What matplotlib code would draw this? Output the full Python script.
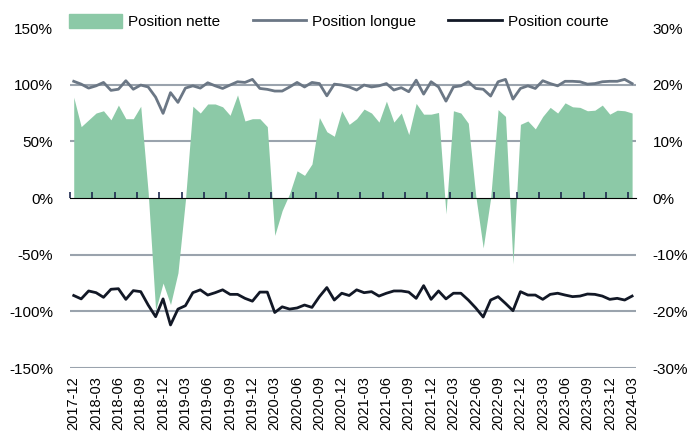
"""
Positions nette, longue et courte (mensuel 2017-12 a 2024-03).
"""
import matplotlib
matplotlib.use("Agg")
import matplotlib.pyplot as plt
import pandas as pd

plt.rcParams["font.family"] = ["Liberation Sans", "DejaVu Sans"]
plt.rcParams["font.size"] = 11

months = [p.strftime("%Y-%m") for p in pd.period_range("2017-12", "2024-03", freq="M")]

# net position, right axis (%)
net = [17.8, 12.6, 13.8, 15.0, 15.4, 13.8, 16.4, 14.0, 14.0, 16.2,
       1.0, -19.8, -15.0, -18.8, -13.2, -0.4, 16.2, 15.0, 16.6, 16.6,
       16.1, 14.6, 18.2, 13.6, 14.0, 14.0, 12.6, -6.6, -2.2, 0.8,
       4.8, 4.0, 6.0, 14.2, 11.7, 10.9, 15.4, 13.0, 14.0, 15.7,
       15.0, 13.4, 17.1, 13.4, 15.0, 11.2, 16.7, 14.8, 14.8, 15.1,
       -2.8, 15.4, 15.0, 13.2, 0.4, -8.8, 0.0, 15.6, 14.4, -11.6,
       13.0, 13.6, 12.2, 14.4, 16.0, 15.0, 16.8, 16.1, 16.0, 15.4,
       15.5, 16.4, 14.8, 15.5, 15.4, 15.0]

# long / short positions, left axis (%)
long_pos = [103, 100.5, 97, 99, 102, 95, 96, 103.5, 96, 99.7,
            98, 89, 74.7, 93, 84.4, 97, 99, 97, 101.7, 99,
            96.7, 99.7, 102.6, 102, 104.7, 96.7, 95.9, 94.4, 94.4, 98,
            102, 98, 102, 101, 90.2, 100.5, 99.7, 98, 95.3, 99.7,
            98, 99, 101, 95.3, 97.4, 93.8, 104, 91.7, 102.6, 98,
            85.5, 98, 99, 102.6, 96.7, 96, 90, 102.6, 104.7, 87.3,
            96.7, 99, 96.7, 103.5, 101, 99, 103, 103, 102.6, 100.5,
            101, 102.6, 103, 103, 104.7, 101]

short_pos = [-86, -89, -82, -83.5, -87.6, -80.5, -80, -89.4, -81.7, -82.6,
             -94.4, -104.7, -89, -112, -98, -95, -83.5, -81, -85.6, -83.5,
             -81, -85, -85, -88.5, -91, -83, -83, -101, -96, -98,
             -97, -94.4, -96.5, -87, -79, -90, -84, -86, -81, -83.5,
             -82.6, -86.5, -84, -82, -82, -83, -88.5, -77.3, -89.4, -82,
             -89, -84, -84, -90, -97, -105, -90, -87, -93, -99.4,
             -82.6, -85.6, -85.6, -89.4, -85, -84, -85.6, -87, -86.5, -84.7,
             -85, -86.5, -89.4, -88.5, -90, -86.5]

GREEN = "#8cc9a7"
SLATE = "#6b7785"
DARK = "#121826"
NAVY = "#1f2a50"
GRID = "#9aa3ad"

x = list(range(len(months)))

fig = plt.figure(figsize=(6.87, 4.34), dpi=100)
ax = fig.add_axes([0.1019, 0.152, 0.8236, 0.7834])
ax2 = ax.twinx()

ax.set_ylim(-150, 150)
ax2.set_ylim(-30, 30)
ax.set_xlim(-0.5, len(months) - 0.5)

ax.set_yticks(range(-150, 151, 50))
ax.set_yticklabels([f"{v}%" for v in range(-150, 151, 50)])
ax2.set_yticks(range(-30, 31, 10))
ax2.set_yticklabels([f"{v}%" for v in range(-30, 31, 10)])

# grid sits under the green area (none at 0 or at the top)
for v in range(-30, 30, 10):
    if v != 0:
        ax2.axhline(v, color=GRID, lw=1.5, zorder=0)

ax2.fill_between(x, 0, net, color=GREEN, lw=0, zorder=1)
ax.set_zorder(ax2.get_zorder() + 1)
ax.patch.set_visible(False)

ax.plot(x, long_pos, color=SLATE, lw=2.0, zorder=3)
ax.plot(x, short_pos, color=DARK, lw=2.0, zorder=3)

# zero line with boundary ticks
zero = ax.secondary_xaxis(0.5)
zero.set_xticks([i - 0.5 for i in range(0, len(months) + 1, 3)])
zero.set_xticklabels([])
zero.tick_params(direction="out", length=4, width=1.2, color=NAVY)
zero.spines["bottom"].set_color(NAVY)
zero.spines["bottom"].set_linewidth(1.5)

ax.set_xticks(x[::3])
ax.set_xticklabels(months[::3], rotation=90, fontsize=10.5)
ax.tick_params(axis="x", length=0, pad=6)
ax.tick_params(axis="y", length=0, pad=12)
ax2.tick_params(axis="y", length=0, pad=12)

for a in (ax, ax2):
    for s in a.spines.values():
        s.set_visible(False)

handles = [
    plt.Rectangle((0, 0), 1, 1, color=GREEN),
    plt.Line2D([], [], color=SLATE, lw=2.0),
    plt.Line2D([], [], color=DARK, lw=2.0),
]
fig.legend(handles, ["Position nette", "Position longue", "Position courte"],
           loc="upper center", bbox_to_anchor=(0.493, 0.995), ncol=3,
           frameon=True, facecolor="white", edgecolor="none", framealpha=1,
           handlelength=3.5, handleheight=1.0, columnspacing=2.1,
           handletextpad=0.4, borderpad=0.3, fancybox=False)

fig.savefig("out.png", dpi=100)
